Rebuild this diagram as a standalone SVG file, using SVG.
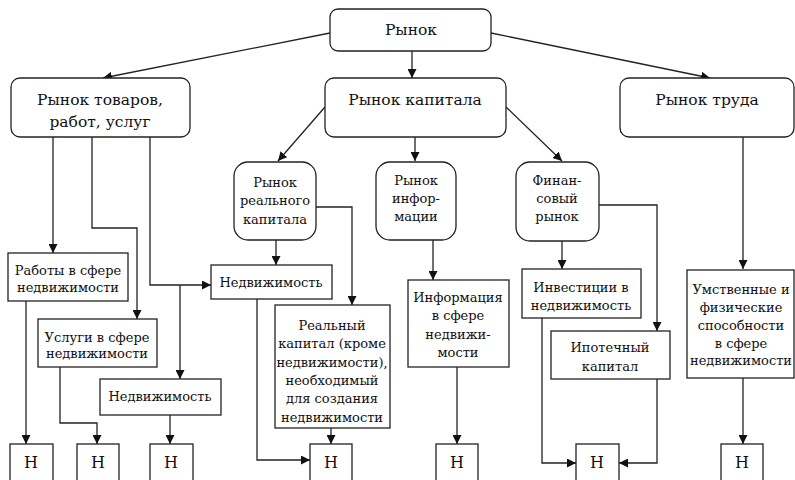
<svg xmlns="http://www.w3.org/2000/svg" width="795" height="480" viewBox="0 0 795 480">
<defs>
<marker id="ah" viewBox="0 0 10 10" refX="10" refY="5" markerWidth="9" markerHeight="9" markerUnits="userSpaceOnUse" orient="auto">
<path d="M0,0 L10,5 L0,10 z" fill="#111"/>
</marker>
<style>
.b{fill:#fff;stroke:#222;stroke-width:1.3}
.t{fill:#111;text-anchor:middle}
.l{font-size:15.5px}
.m{font-size:13px}
.n{font-size:16px}
.c{fill:none;stroke:#222;stroke-width:1.3;marker-end:url(#ah)}
</style>
</defs>
<rect width="795" height="480" fill="#fff"/>
<g id="connectors">
<path class="c" d="M330,33 L103,78"/>
<path class="c" d="M412,51 L412,78"/>
<path class="c" d="M491,33 L710,78"/>
<path class="c" d="M325,107 L278,161"/>
<path class="c" d="M415,137 L415,161"/>
<path class="c" d="M506,107 L562,161"/>
<path class="c" d="M743,137 L743,269"/>
<path class="c" d="M53,137 L53,253"/>
<path class="c" d="M92,137 L92,228 L137,228 L137,319"/>
<path class="c" d="M150,137 L150,285 L211,285"/>
<path class="c" d="M180,285 L180,379"/>
<path class="c" d="M276,240 L276,265"/>
<path class="c" d="M316,207 L352,207 L352,305"/>
<path class="c" d="M433,240 L433,280"/>
<path class="c" d="M562,241 L562,269"/>
<path class="c" d="M599,205 L657,205 L657,331"/>
<path class="c" d="M26,301 L26,444"/>
<path class="c" d="M60,367 L60,423 L97,423 L97,444"/>
<path class="c" d="M170,415 L170,444"/>
<path class="c" d="M257,299 L257,460 L310,460"/>
<path class="c" d="M331,428 L331,444"/>
<path class="c" d="M457,367 L457,444"/>
<path class="c" d="M542,318 L542,463 L576,463"/>
<path class="c" d="M657,379 L657,463 L619,463"/>
<path class="c" d="M743,378 L743,444"/>
</g>
<g font-family="'DejaVu Serif', 'Liberation Serif', serif">
<g id="n-rynok"><rect class="b" x="330" y="9" width="161" height="42" rx="8"/><text class="t l" x="411" y="35">Рынок</text></g>
<g id="n-tovary"><rect class="b" x="11" y="78" width="179" height="59" rx="9"/><text class="t l" x="100" y="105">Рынок товаров,</text><text class="t l" x="100" y="127">работ, услуг</text></g>
<g id="n-kapital"><rect class="b" x="325" y="78" width="181" height="59" rx="9"/><text class="t l" x="415" y="105">Рынок капитала</text></g>
<g id="n-trud"><rect class="b" x="620" y="78" width="174" height="59" rx="9"/><text class="t l" x="707" y="105">Рынок труда</text></g>
<g id="n-real"><rect class="b" x="234" y="162" width="82" height="78" rx="14"/><text class="t m" x="275" y="187">Рынок</text><text class="t m" x="275" y="205">реального</text><text class="t m" x="275" y="224">капитала</text></g>
<g id="n-info"><rect class="b" x="376" y="162" width="80" height="78" rx="14"/><text class="t m" x="416" y="185">Рынок</text><text class="t m" x="416" y="203">инфор-</text><text class="t m" x="416" y="221">мации</text></g>
<g id="n-fin"><rect class="b" x="516" y="162" width="83" height="79" rx="14"/><text class="t m" x="557" y="185">Финан-</text><text class="t m" x="557" y="203">совый</text><text class="t m" x="557" y="221">рынок</text></g>
<g id="n-raboty"><rect class="b" x="8" y="253" width="120" height="48"/><text class="t m" x="68" y="275">Работы в сфере</text><text class="t m" x="68" y="292">недвижимости</text></g>
<g id="n-nedv1"><rect class="b" x="211" y="265" width="121" height="34"/><text class="t m" x="271" y="287">Недвижимость</text></g>
<g id="n-uslugi"><rect class="b" x="38" y="319" width="119" height="48"/><text class="t m" x="97" y="342">Услуги в сфере</text><text class="t m" x="97" y="358">недвижимости</text></g>
<g id="n-nedv2"><rect class="b" x="100" y="379" width="121" height="36"/><text class="t m" x="160" y="401">Недвижимость</text></g>
<g id="n-realcap"><rect class="b" x="275" y="305" width="115" height="123"/><text class="t m" x="332" y="330">Реальный</text><text class="t m" x="332" y="348">капитал (кроме</text><text class="t m" x="332" y="367">недвижимости),</text><text class="t m" x="332" y="385">необходимый</text><text class="t m" x="332" y="403">для создания</text><text class="t m" x="332" y="422">недвижимости</text></g>
<g id="n-infore"><rect class="b" x="408" y="280" width="101" height="87"/><text class="t m" x="458" y="302">Информация</text><text class="t m" x="458" y="320">в сфере</text><text class="t m" x="458" y="339">недвижи-</text><text class="t m" x="458" y="357">мости</text></g>
<g id="n-invest"><rect class="b" x="522" y="269" width="119" height="49"/><text class="t m" x="581" y="292">Инвестиции в</text><text class="t m" x="581" y="310">недвижимость</text></g>
<g id="n-ipot"><rect class="b" x="551" y="331" width="119" height="48"/><text class="t m" x="610" y="352">Ипотечный</text><text class="t m" x="610" y="371">капитал</text></g>
<g id="n-umst"><rect class="b" x="687" y="270" width="107" height="108"/><text class="t m" x="741" y="294">Умственные и</text><text class="t m" x="741" y="312">физические</text><text class="t m" x="741" y="330">способности</text><text class="t m" x="741" y="348">в сфере</text><text class="t m" x="741" y="365">недвижимости</text></g>
<g id="n-h1"><rect class="b" x="10" y="444" width="43" height="40"/><text class="t n" x="31" y="468">Н</text></g>
<g id="n-h2"><rect class="b" x="77" y="444" width="42" height="40"/><text class="t n" x="98" y="468">Н</text></g>
<g id="n-h3"><rect class="b" x="150" y="444" width="43" height="40"/><text class="t n" x="171" y="468">Н</text></g>
<g id="n-h4"><rect class="b" x="310" y="444" width="42" height="40"/><text class="t n" x="331" y="468">Н</text></g>
<g id="n-h5"><rect class="b" x="436" y="444" width="42" height="40"/><text class="t n" x="457" y="468">Н</text></g>
<g id="n-h6"><rect class="b" x="576" y="444" width="43" height="40"/><text class="t n" x="597" y="468">Н</text></g>
<g id="n-h7"><rect class="b" x="721" y="444" width="42" height="40"/><text class="t n" x="742" y="468">Н</text></g>
</g>
</svg>
